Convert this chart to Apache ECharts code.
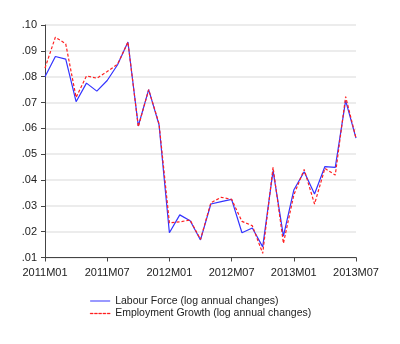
<!DOCTYPE html>
<html>
<head>
<meta charset="utf-8">
<script src="https://cdn.jsdelivr.net/npm/echarts@6/dist/echarts.min.js"></script>
<style>html,body{margin:0;padding:0;background:#fff;}#c{width:400px;height:344px;}</style>
</head>
<body>
<div id="c"></div>
<script>
var months = ["2011M01","2011M02","2011M03","2011M04","2011M05","2011M06","2011M07","2011M08","2011M09","2011M10","2011M11","2011M12",
"2012M01","2012M02","2012M03","2012M04","2012M05","2012M06","2012M07","2012M08","2012M09","2012M10","2012M11","2012M12",
"2013M01","2013M02","2013M03","2013M04","2013M05","2013M06","2013M07"];
var labourForce = [0.0800,0.0878,0.0868,0.0703,0.0775,0.0744,0.0785,0.0846,0.0934,0.0609,0.0750,0.0614,
0.0196,0.0265,0.0242,0.0168,0.0307,0.0316,0.0325,0.0196,0.0214,0.0141,0.0436,0.0183,
0.0361,0.0432,0.0346,0.0452,0.0449,0.0707,0.0562];
var employmentGrowth = [0.0833,0.0953,0.0927,0.0720,0.0803,0.0794,0.0820,0.0848,0.0934,0.0606,0.0750,0.0618,
0.0234,0.0238,0.0245,0.0170,0.0312,0.0333,0.0325,0.0240,0.0223,0.0116,0.0449,0.0155,
0.0342,0.0441,0.0307,0.0445,0.0419,0.0723,0.0562];
var yTicks = {min:0.01, max:0.10, interval:0.01};
var labelIdx = [0,6,12,18,24,30];
var names = ['Labour Force (log annual changes)','Employment Growth (log annual changes)'];
var blue = '#3333ff', red = '#ff2020';
var solidIcon = 'path://M0,0h20v1h-20z';
var dashIcon = 'path://M0,0h3v1h-3z M4.25,0h3v1h-3z M8.5,0h3v1h-3z M12.75,0h3v1h-3z M17,0h3v1h-3z';

var chart = echarts.init(document.getElementById('c'), null, {renderer:'canvas'});
chart.setOption({
  backgroundColor:'#fff',
  animation:false,
  grid:{left:45, right:44, top:25, bottom:86.5},
  legend:{
    orient:'vertical', left:90, top:295, padding:0,
    itemWidth:20, itemHeight:1.5, itemGap:0.5,
    textStyle:{fontFamily:'Liberation Sans, Arial', fontSize:10.5, lineHeight:12, color:'#222'},
    data:[
      {name:names[0], icon:solidIcon, itemStyle:{color:blue, borderWidth:0}},
      {name:names[1], icon:dashIcon, itemStyle:{color:red, borderColor:red, borderWidth:0.3}}
    ]
  },
  xAxis:{
    type:'category', data:months, boundaryGap:false,
    axisLine:{lineStyle:{color:'#444', width:1}},
    axisTick:{show:true, length:4, lineStyle:{color:'#444'}, interval:function(i){return labelIdx.indexOf(i)>=0;}},
    axisLabel:{interval:function(i){return labelIdx.indexOf(i)>=0;}, fontFamily:'Liberation Sans, Arial', fontSize:11, color:'#222', margin:10},
    splitLine:{show:false}
  },
  yAxis:{
    type:'value', min:yTicks.min, max:yTicks.max, interval:yTicks.interval,
    axisLine:{show:true, lineStyle:{color:'#444', width:1}},
    axisTick:{show:true, length:4, lineStyle:{color:'#444'}},
    axisLabel:{fontFamily:'Liberation Sans, Arial', fontSize:11, color:'#222', margin:8,
      formatter:function(v){return v.toFixed(2).replace(/^0/,'');}},
    splitLine:{show:true, lineStyle:{color:'#e6e6e6', width:1.5}}
  },
  series:[
    {name:names[0], type:'line', data:labourForce, symbol:'none',
     lineStyle:{color:blue, width:1.2}, itemStyle:{color:blue}},
    {name:names[1], type:'line', data:employmentGrowth, symbol:'none',
     lineStyle:{color:red, width:1.2, type:[3,2]}, itemStyle:{color:red}}
  ]
});
</script>
</body>
</html>
